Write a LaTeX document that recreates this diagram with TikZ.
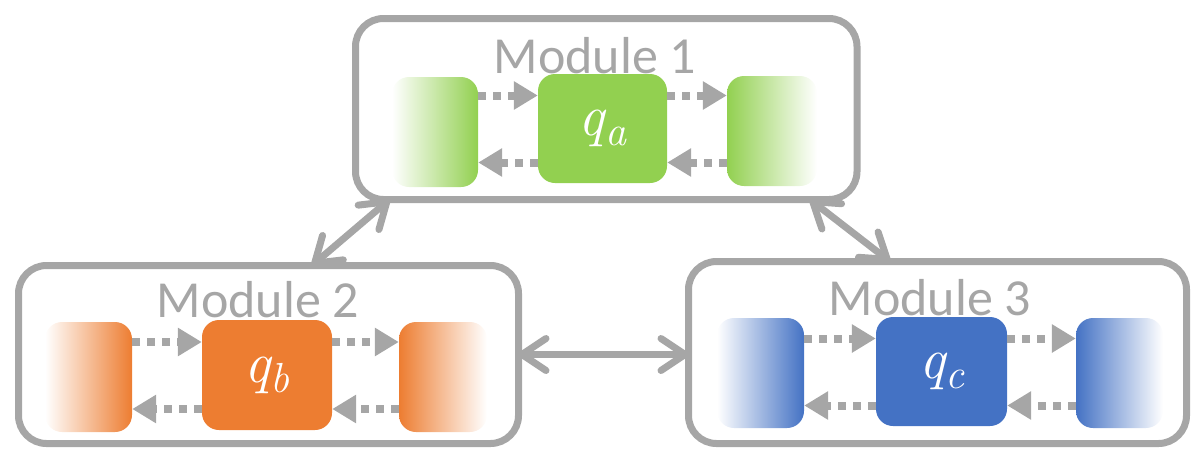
\documentclass[tikz,border=0pt]{standalone}
\usepackage{fontspec}
\newfontfamily\carlito{Carlito}
\usetikzlibrary{arrows.meta}
\definecolor{gr}{HTML}{A6A6A6}
\definecolor{cg}{HTML}{92D050}
\definecolor{co}{HTML}{ED7D31}
\definecolor{cb}{HTML}{4472C4}
\newcommand\qsub[1]{q\raisebox{-10pt}{\fontsize{42}{48}\selectfont #1}}
\begin{document}
\begin{tikzpicture}[x=1pt,y=-1pt,
  module/.style={draw=gr,line width=7pt,rounded corners=28pt,inner sep=0pt,outer sep=0pt},
  title/.style={text=gr,font=\carlito\fontsize{52}{60}\selectfont,anchor=base,inner sep=0pt},
  qbox/.style={fill=#1,rounded corners=17pt,inner sep=0pt,text=white,font=\fontsize{58}{66}\selectfont\itshape},
  lfade/.style={left color=white,middle color=#1!60,right color=#1,rounded corners=17pt,inner sep=0pt,minimum height=110pt},
  rfade/.style={left color=#1,middle color=#1!60,right color=white,rounded corners=17pt,inner sep=0pt,minimum height=110pt},
  dotarrow/.style={draw=gr,line width=8pt,dash pattern=on 8pt off 7pt,-{Triangle[length=24pt,width=27pt]}},
  link/.style={draw=gr,line width=7pt,{Straight Barb[length=24pt,width=32pt,round]}-{Straight Barb[length=24pt,width=32pt,round]}}
]
\useasboundingbox (0,0) rectangle (1191,448);
% modules
\node[module,minimum width=501.5pt,minimum height=181pt] (m1) at (606.25,109) {};
\node[module,minimum width=500pt,minimum height=178pt] (m2) at (268.5,354.5) {};
\node[module,minimum width=498pt,minimum height=182pt] (m3) at (937.5,352.5) {};
\node[title] (t1) at (595,73) {Module 1};
\node[title] (t2) at (258,317) {Module 2};
\node[title] (t3) at (930,315) {Module 3};
% module 1 contents
\node[lfade=cg,minimum width=86pt] (l1) at (435,132) {};
\node[qbox=cg,minimum width=129pt,minimum height=109pt] (qa) at (602.5,128.5) {\qsub{a}};
\node[rfade=cg,minimum width=90pt] (r1) at (772,131) {};
% module 2 contents
\node[lfade=co,minimum width=87pt] (l2) at (88.5,377) {};
\node[qbox=co,minimum width=130pt,minimum height=110pt] (qb) at (267,375) {\qsub{b}};
\node[rfade=co,minimum width=88pt] (r2) at (443,377) {};
% module 3 contents
\node[lfade=cb,minimum width=87pt] (l3) at (760.5,373) {};
\node[qbox=cb,minimum width=131pt,minimum height=109pt] (qc) at (941.5,371.5) {\qsub{c}};
\node[rfade=cb,minimum width=87pt] (r3) at (1119.5,373) {};
% dotted arrows
\foreach \q/\l/\r in {qa/l1/r1,qb/l2/r2,qc/l3/r3}{
  \draw[dotarrow] ([yshift=33pt]\q.west -| \l.east) -- ([yshift=33pt]\q.west);
  \draw[dotarrow] ([yshift=-34pt]\q.west) -- ([yshift=-34pt]\q.west -| \l.east);
  \draw[dotarrow] ([yshift=33pt]\q.east) -- ([yshift=33pt]\q.east -| \r.west);
  \draw[dotarrow] ([yshift=-34pt]\q.east -| \r.west) -- ([yshift=-34pt]\q.east);
}
% links
\draw[link] ([xshift=34pt]m1.south west) -- ([xshift=293.5pt]m2.north west);
\draw[link] ([xshift=-47pt]m1.south east) -- ([xshift=201.5pt]m3.north west);
\draw[link] (m2.east) -- (m2.east -| m3.west);
\end{tikzpicture}
\end{document}
